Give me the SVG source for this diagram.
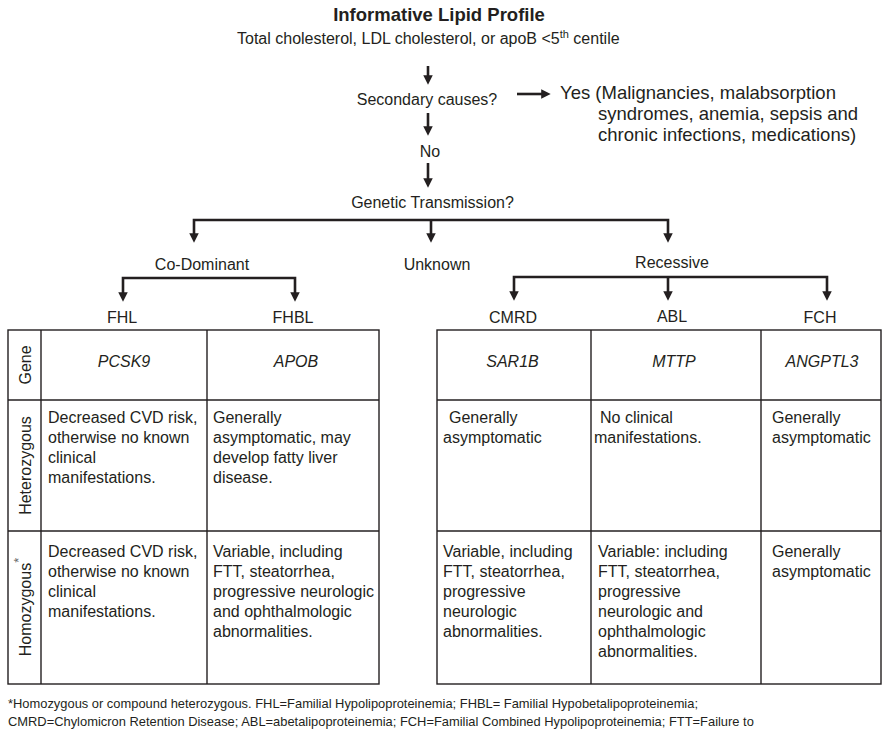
<svg xmlns="http://www.w3.org/2000/svg" width="889" height="733" viewBox="0 0 889 733">
<style>
text{font-family:"Liberation Sans",Arial,Helvetica,sans-serif;fill:#231f20;}
.t16{font-size:16px;}
.c{text-anchor:middle;}
.it{font-style:italic;}
.yes{font-size:18.5px;}
.title{font-size:18.5px;font-weight:bold;}
.foot{font-size:12.9px;}
.conn{fill:none;stroke:#231f20;stroke-width:2.6;stroke-linejoin:miter;}
.grid{fill:none;stroke:#231f20;stroke-width:1.4;}
</style>
<defs>
<marker id="ah" viewBox="0 0 10 10" markerUnits="userSpaceOnUse" markerWidth="9.5" markerHeight="9.5" refX="4" refY="5" orient="auto-start-reverse">
<path d="M0,0 L10,5 L0,10 z" fill="#231f20"/>
</marker>
</defs>
<rect width="889" height="733" fill="#ffffff"/>

<g id="title">
<text class="title c" x="439" y="21">Informative Lipid Profile</text>
<text class="t16" x="237" y="44">Total cholesterol, LDL cholesterol, or apoB &lt;5<tspan font-size="11" dy="-6">th</tspan><tspan dy="6"> centile</tspan></text>
</g>
<g id="secondary"><text class="t16 c" x="427" y="105">Secondary causes?</text></g>
<g id="yes">
<text class="yes" x="560" y="98.5">Yes (Malignancies, malabsorption</text>
<text class="yes" x="598" y="119.5">syndromes, anemia, sepsis and</text>
<text class="yes" x="598" y="140.5">chronic infections, medications)</text>
</g>
<g id="no"><text class="t16 c" x="430" y="157">No</text></g>
<g id="genetic"><text class="t16 c" x="432.5" y="208">Genetic Transmission?</text></g>
<g id="codominant"><text class="t16 c" x="202" y="270">Co-Dominant</text></g>
<g id="unknown"><text class="t16 c" x="437" y="270">Unknown</text></g>
<g id="recessive"><text class="t16 c" x="672" y="268">Recessive</text></g>
<g id="fhl"><text class="t16 c" x="122" y="323">FHL</text></g>
<g id="fhbl"><text class="t16 c" x="293" y="323">FHBL</text></g>
<g id="cmrd"><text class="t16 c" x="513" y="323">CMRD</text></g>
<g id="abl"><text class="t16 c" x="672" y="322">ABL</text></g>
<g id="fch"><text class="t16 c" x="820" y="323">FCH</text></g>

<g id="connectors">
<line class="conn" x1="428" y1="66" x2="428" y2="79" marker-end="url(#ah)"/>
<line class="conn" x1="428" y1="113" x2="428" y2="130" marker-end="url(#ah)"/>
<line class="conn" x1="428" y1="163" x2="428" y2="182" marker-end="url(#ah)"/>
<line class="conn" x1="517" y1="94" x2="545" y2="94" marker-end="url(#ah)"/>
<path class="conn" d="M194,237 V220 H668 V237" marker-start="url(#ah)" marker-end="url(#ah)"/>
<line class="conn" x1="431" y1="220" x2="431" y2="237" marker-end="url(#ah)"/>
<path class="conn" d="M123,296 V278 H295 V296" marker-start="url(#ah)" marker-end="url(#ah)"/>
<path class="conn" d="M514,295 V277 H827 V295" marker-start="url(#ah)" marker-end="url(#ah)"/>
<line class="conn" x1="668" y1="277" x2="668" y2="295" marker-end="url(#ah)"/>
</g>

<g id="table-left">
<rect class="grid" x="8" y="330" width="371" height="354"/>
<line class="grid" x1="41" y1="330" x2="41" y2="684"/>
<line class="grid" x1="207" y1="330" x2="207" y2="684"/>
<line class="grid" x1="8" y1="400" x2="379" y2="400"/>
<line class="grid" x1="8" y1="531" x2="379" y2="531"/>
<text class="t16 c" transform="translate(31,365) rotate(-90)">Gene</text>
<text class="t16 c" transform="translate(31,465.5) rotate(-90)">Heterozygous</text>
<text class="t16 c" transform="translate(31,607) rotate(-90)">Homozygous<tspan font-size="13" fill="#666" dy="-8">*</tspan></text>
<text class="t16 c it" x="124" y="366.5">PCSK9</text>
<text class="t16 c it" x="296" y="366.5">APOB</text>
<text class="t16" x="48" y="423">Decreased CVD risk,</text>
<text class="t16" x="48" y="443">otherwise no known</text>
<text class="t16" x="48" y="463">clinical</text>
<text class="t16" x="48" y="483">manifestations.</text>
<text class="t16" x="213" y="423">Generally</text>
<text class="t16" x="213" y="443">asymptomatic, may</text>
<text class="t16" x="213" y="463">develop fatty liver</text>
<text class="t16" x="213" y="483">disease.</text>
<text class="t16" x="48" y="556.5">Decreased CVD risk,</text>
<text class="t16" x="48" y="576.5">otherwise no known</text>
<text class="t16" x="48" y="596.5">clinical</text>
<text class="t16" x="48" y="616.5">manifestations.</text>
<text class="t16" x="213" y="556.5">Variable, including</text>
<text class="t16" x="213" y="576.5">FTT, steatorrhea,</text>
<text class="t16" x="213" y="596.5">progressive neurologic</text>
<text class="t16" x="213" y="616.5">and ophthalmologic</text>
<text class="t16" x="213" y="636.5">abnormalities.</text>
</g>

<g id="table-right">
<rect class="grid" x="437" y="330" width="444" height="354"/>
<line class="grid" x1="591" y1="330" x2="591" y2="684"/>
<line class="grid" x1="761" y1="330" x2="761" y2="684"/>
<line class="grid" x1="437" y1="400" x2="881" y2="400"/>
<line class="grid" x1="437" y1="531" x2="881" y2="531"/>
<text class="t16 c it" x="512.5" y="366.5">SAR1B</text>
<text class="t16 c it" x="674" y="366.5">MTTP</text>
<text class="t16 c it" x="822" y="366.5">ANGPTL3</text>
<text class="t16" x="449" y="423">Generally</text>
<text class="t16" x="443" y="443">asymptomatic</text>
<text class="t16" x="600" y="423">No clinical</text>
<text class="t16" x="594" y="443">manifestations.</text>
<text class="t16" x="772" y="423">Generally</text>
<text class="t16" x="772" y="443">asymptomatic</text>
<text class="t16" x="443" y="556.5">Variable, including</text>
<text class="t16" x="443" y="576.5">FTT, steatorrhea,</text>
<text class="t16" x="443" y="596.5">progressive</text>
<text class="t16" x="443" y="616.5">neurologic</text>
<text class="t16" x="443" y="636.5">abnormalities.</text>
<text class="t16" x="598" y="556.5">Variable: including</text>
<text class="t16" x="598" y="576.5">FTT, steatorrhea,</text>
<text class="t16" x="598" y="596.5">progressive</text>
<text class="t16" x="598" y="616.5">neurologic and</text>
<text class="t16" x="598" y="636.5">ophthalmologic</text>
<text class="t16" x="598" y="656.5">abnormalities.</text>
<text class="t16" x="772" y="556.5">Generally</text>
<text class="t16" x="772" y="576.5">asymptomatic</text>
</g>

<g id="footnote">
<text class="foot" x="8" y="707.5">*Homozygous or compound heterozygous. FHL=Familial Hypolipoproteinemia; FHBL= Familial Hypobetalipoproteinemia;</text>
<text class="foot" x="8" y="725.5">CMRD=Chylomicron Retention Disease; ABL=abetalipoproteinemia; FCH=Familial Combined Hypolipoproteinemia; FTT=Failure to</text>
</g>
</svg>
